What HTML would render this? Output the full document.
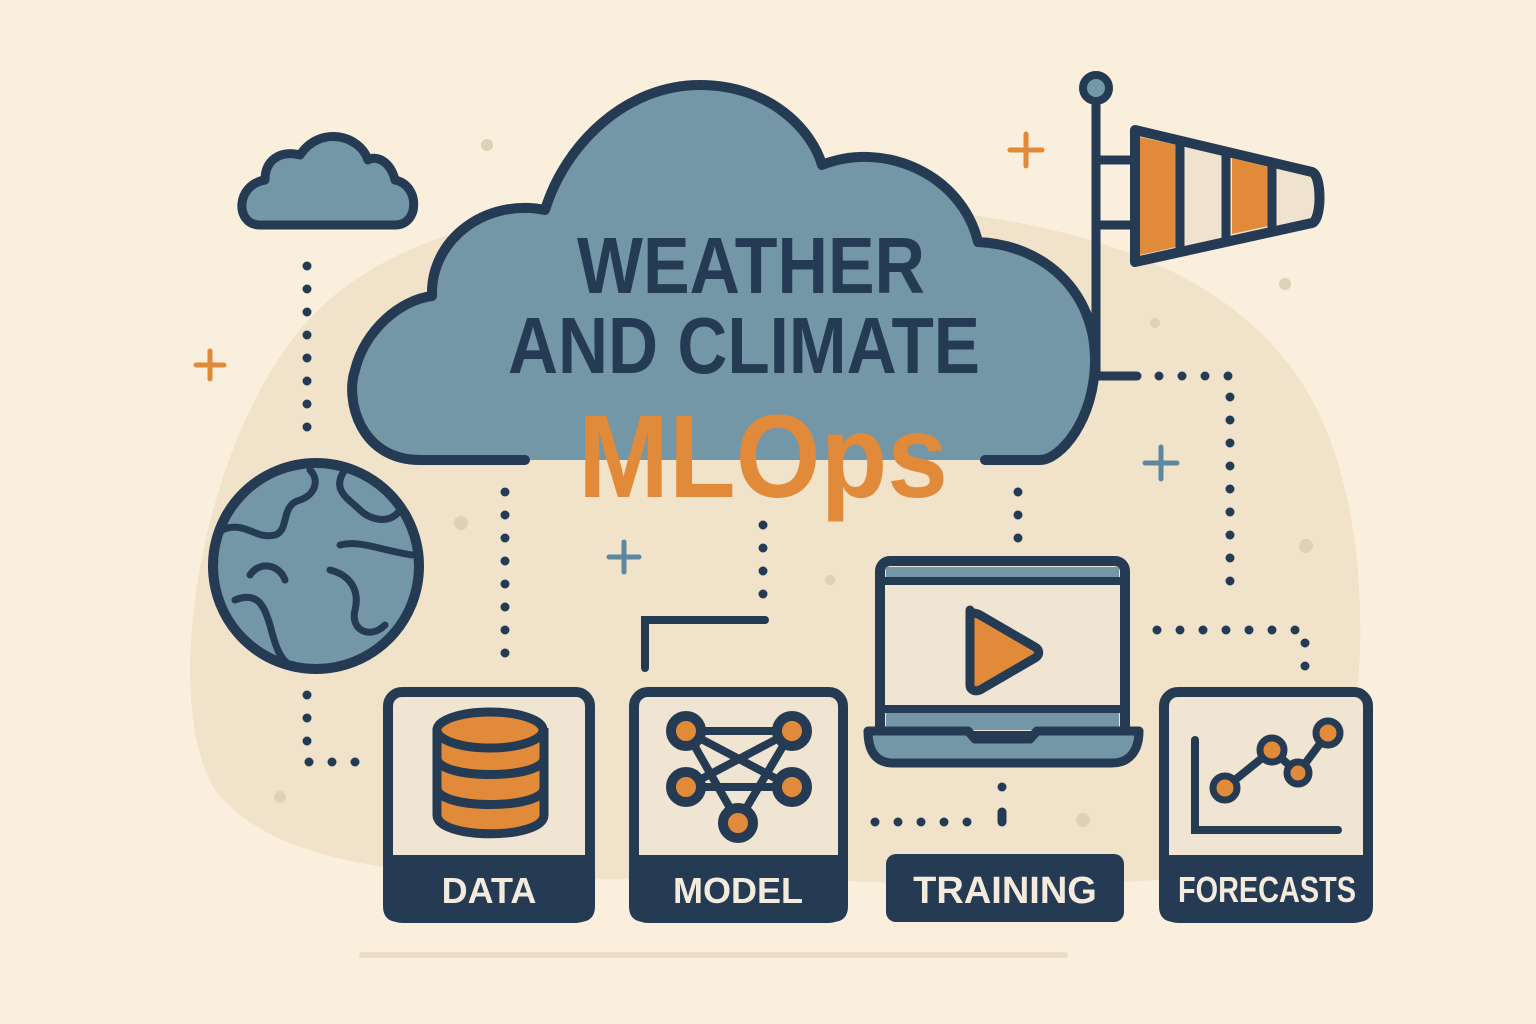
<!DOCTYPE html>
<html><head><meta charset="utf-8"><style>
html,body{margin:0;padding:0;background:#FAEEDD;}
svg{display:block}
text{font-family:"Liberation Sans",sans-serif;font-weight:bold}
</style></head><body>
<svg width="1536" height="1024" viewBox="0 0 1536 1024">
<rect width="1536" height="1024" fill="#FAEEDD"/>
<path d="M300 330 C380 230 560 190 760 200 C980 205 1200 230 1300 380 C1380 500 1370 720 1330 820 C1290 900 1000 885 800 880 C560 875 300 900 215 790 C160 700 200 450 300 330 Z" fill="#F1E2CA"/>
<line x1="362" y1="955" x2="1065" y2="955" stroke="#EDDCC5" stroke-width="6" stroke-linecap="round"/>
<g fill="#DFD0B8">
<circle cx="487" cy="145" r="6"/><circle cx="1155" cy="323" r="5"/><circle cx="1285" cy="284" r="6"/><circle cx="1306" cy="546" r="7"/><circle cx="461" cy="523" r="7"/><circle cx="1083" cy="820" r="7"/><circle cx="280" cy="797" r="6"/><circle cx="830" cy="580" r="5"/>
</g>
<g stroke-linecap="round" stroke-width="5">
<path d="M196 365h28M210 351v28" stroke="#E08A3A"/>
<path d="M1010 150h32M1026 134v32" stroke="#E08A3A"/>
<path d="M609 557h30M624 542v30" stroke="#5F88A0"/>
<path d="M1145 463h32M1161 447v32" stroke="#5F88A0"/>
</g>
<g fill="none" stroke="#243B53" stroke-width="9" stroke-linecap="round" stroke-dasharray="0 23">
<path d="M307 266 V448"/>
<path d="M307 695 V762 H356"/>
<path d="M505 492 V675"/>
<path d="M763 525 V600"/>
<path d="M1018 492 V540"/>
<path d="M1159 376 H1230 V602"/>
<path d="M1157 630 H1305 V680"/>
<path d="M875 822 H975"/>
<path d="M1002 787 V790"/>
</g>
<path d="M645 668 V620 H765" fill="none" stroke="#243B53" stroke-width="8" stroke-linecap="round"/>
<path d="M1002 812 V822" fill="none" stroke="#243B53" stroke-width="9" stroke-linecap="round"/>
<path d="M1040 460 L420 460 C360 460 345 400 355 370 C365 330 400 300 432 296 C430 240 485 198 545 210 C565 145 625 85 700 85 C770 85 812 130 822 165 C885 140 962 175 978 242 C1045 245 1095 292 1095 360 C1095 420 1060 460 1040 460 Z" fill="#7497A7"/>
<path d="M525 460 L420 460 C360 460 345 400 355 370 C365 330 400 300 432 296 C430 240 485 198 545 210 C565 145 625 85 700 85 C770 85 812 130 822 165 C885 140 962 175 978 242 C1045 245 1095 292 1095 360 C1095 420 1060 460 1040 460 L985 460" fill="none" stroke="#243B53" stroke-width="10" stroke-linecap="round" stroke-linejoin="round"/>
<text x="577" y="293" font-size="80" fill="#243B53" textLength="348" lengthAdjust="spacingAndGlyphs">WEATHER</text>
<text x="508" y="373" font-size="80" fill="#243B53" textLength="472" lengthAdjust="spacingAndGlyphs">AND CLIMATE</text>
<text x="578" y="497" font-size="118" fill="#E08A3A" textLength="370" lengthAdjust="spacingAndGlyphs">MLOps</text>
<path d="M260 225 H395 C420 225 420 185 395 180 C390 160 375 155 368 160 C360 135 320 125 300 155 C280 150 265 160 265 180 C235 185 235 225 260 225 Z" fill="#7497A7" stroke="#243B53" stroke-width="9" stroke-linejoin="round"/>
<g stroke="#243B53" stroke-linejoin="round" stroke-linecap="round">
<line x1="1096" y1="100" x2="1096" y2="376" stroke-width="9"/>
<line x1="1096" y1="376" x2="1137" y2="376" stroke-width="9"/>
<circle cx="1096" cy="88" r="13" fill="#7497A7" stroke-width="8"/>
<line x1="1100" y1="160" x2="1135" y2="160" stroke-width="9"/>
<line x1="1100" y1="225" x2="1135" y2="225" stroke-width="9"/>
<path d="M1135 130 L1312 172 C1322 175 1322 220 1312 223 L1135 262 Z" fill="#EFE2CE" stroke-width="10"/>
<path d="M1140 137 L1176 145 V247 L1140 255 Z" fill="#E08A3A" stroke="none"/>
<path d="M1232 158 L1268 167 V226 L1232 234 Z" fill="#E08A3A" stroke="none"/>
<line x1="1180" y1="145" x2="1180" y2="248" stroke-width="9"/>
<line x1="1226" y1="156" x2="1226" y2="237" stroke-width="9"/>
<line x1="1272" y1="167" x2="1272" y2="227" stroke-width="9"/>
</g>
<g stroke="#243B53" fill="none" stroke-width="7" stroke-linecap="round" stroke-linejoin="round">
<circle cx="316" cy="566" r="103" fill="#7497A7" stroke-width="10"/>
<path d="M222 530 C245 520 255 540 275 535 C290 530 280 505 300 500 C315 495 320 480 310 470"/>
<path d="M345 470 C330 490 350 500 360 510 C370 520 390 525 400 510"/>
<path d="M340 545 C360 540 380 550 412 555"/>
<path d="M330 570 C350 575 360 590 355 610 C350 630 370 640 385 625"/>
<path d="M235 600 C260 590 265 610 270 625 C275 645 280 660 290 665"/>
<path d="M250 575 C260 560 280 565 285 580"/>
</g>
<g>
<rect x="388" y="692" width="202" height="226" rx="14" fill="#F0E4D2" stroke="#243B53" stroke-width="10"/>
<path d="M383 855 H595 V906 Q595 922 579 922 H399 Q383 922 383 906 Z" fill="#243B53"/>
<text x="489" y="903" text-anchor="middle" font-size="36" fill="#F5EBDD">DATA</text>
<g stroke="#243B53" stroke-width="9" fill="#E08A3A">
<path d="M437 728 V815 C437 840 544 840 544 815 V728"/>
<path d="M437 758 C437 780 544 780 544 758" fill="none"/>
<path d="M437 788 C437 810 544 810 544 788" fill="none"/>
<ellipse cx="490" cy="730" rx="53" ry="18"/>
</g>
</g>
<g>
<rect x="634" y="692" width="209" height="226" rx="14" fill="#F0E4D2" stroke="#243B53" stroke-width="10"/>
<path d="M629 855 H848 V906 Q848 922 832 922 H645 Q629 922 629 906 Z" fill="#243B53"/>
<text x="738" y="903" text-anchor="middle" font-size="36" fill="#F5EBDD">MODEL</text>
<g stroke="#243B53" stroke-width="8">
<path d="M686 731 H792 M686 731 L792 787 M792 731 L686 787 M686 787 H792 M686 731 L738 822 M792 731 L738 822" fill="none"/>
<g fill="#E08A3A" stroke-width="10">
<circle cx="686" cy="731" r="15"/><circle cx="792" cy="731" r="15"/><circle cx="686" cy="787" r="15"/><circle cx="792" cy="787" r="15"/><circle cx="738" cy="823" r="15"/>
</g>
</g>
</g>
<g stroke="#243B53" stroke-linejoin="round">
<rect x="880" y="561" width="245" height="175" rx="10" fill="#F0E4D2" stroke-width="10"/>
<rect x="886" y="567" width="233" height="10" fill="#7497A7" stroke="none"/>
<line x1="884" y1="581" x2="1122" y2="581" stroke-width="8"/>
<rect x="886" y="712" width="233" height="18" fill="#7497A7" stroke="none"/>
<line x1="884" y1="709" x2="1122" y2="709" stroke-width="8"/>
<path d="M868 731 H968 L975 739 H1030 L1037 731 H1139 C1139 750 1130 763 1112 763 H893 C875 763 868 750 868 731 Z" fill="#7497A7" stroke-width="9"/>
<path d="M970 610 V685 C970 690 975 692 980 690 L1035 658 C1040 655 1040 650 1035 647 L980 615 C975 612 970 614 970 610 Z" fill="#E08A3A" stroke-width="9"/>
</g>
<g>
<rect x="886" y="854" width="238" height="68" rx="10" fill="#243B53"/>
<text x="1005" y="903" text-anchor="middle" font-size="38" fill="#F5EBDD">TRAINING</text>
</g>
<g>
<rect x="1164" y="692" width="204" height="226" rx="14" fill="#F0E4D2" stroke="#243B53" stroke-width="10"/>
<path d="M1159 855 H1373 V906 Q1373 922 1357 922 H1175 Q1159 922 1159 906 Z" fill="#243B53"/>
<text x="1178" y="902" font-size="36" fill="#F5EBDD" textLength="178" lengthAdjust="spacingAndGlyphs">FORECASTS</text>
<g stroke="#243B53" stroke-width="8" stroke-linecap="round">
<path d="M1195 740 V830 H1338" fill="none"/>
<path d="M1225 788 L1272 750 L1298 773 L1328 733" fill="none"/>
<g fill="#E08A3A" stroke-width="7"><circle cx="1225" cy="788" r="12"/><circle cx="1272" cy="750" r="12"/><circle cx="1298" cy="773" r="11"/><circle cx="1328" cy="733" r="12"/></g>
</g>
</g>
</svg>
</body></html>
